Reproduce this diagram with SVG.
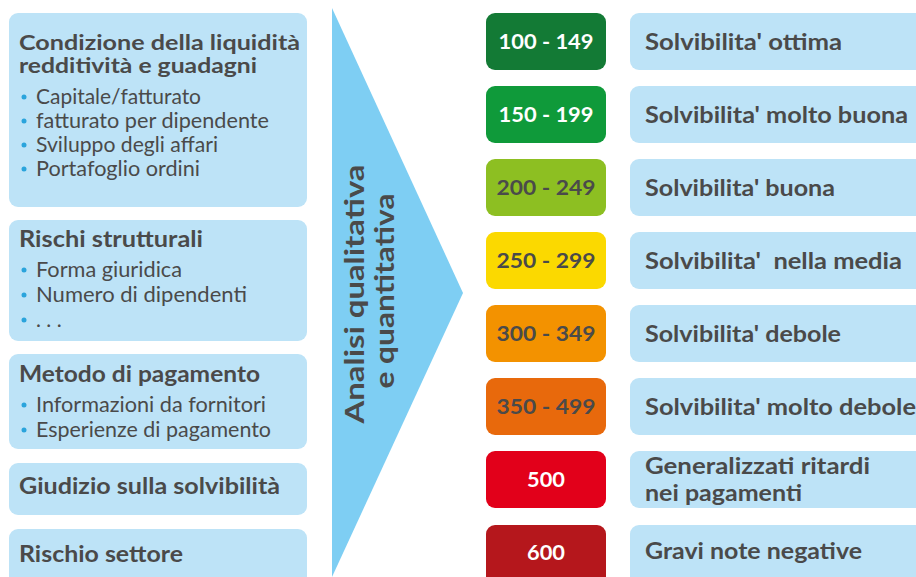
<svg xmlns="http://www.w3.org/2000/svg" width="916" height="577" viewBox="0 0 916 577">
<style>
.box{fill:#bde3f7}
.h{font-family:Lato,"Open Sans",sans-serif;font-weight:bold;font-size:23px;fill:#4a4a4a}
.h2{font-size:21px}
.b{font-family:Lato,"Open Sans",sans-serif;font-size:21px;fill:#4a4a4a}
.dot{fill:#2aa4dc}
.badge{font-family:Lato,"Open Sans",sans-serif;font-weight:bold;font-size:20px;text-anchor:middle}
.w{fill:#ffffff}
.g{fill:#4a4a4a}
.lab{font-family:Lato,"Open Sans",sans-serif;font-weight:bold;font-size:23px;fill:#4a4a4a}
.arr{font-family:Lato,"Open Sans",sans-serif;font-weight:bold;font-size:26px;fill:#4a4a4a;text-anchor:middle}
</style>
<rect width="916" height="577" fill="#ffffff"/>
<g id="connectors">
<polygon points="332,8 463,293 332,577" fill="#7ecef3"/>
<text class="arr" transform="translate(364,294) rotate(-90)" textLength="259" lengthAdjust="spacingAndGlyphs">Analisi qualitativa</text>
<text class="arr" transform="translate(394,291) rotate(-90)" textLength="195" lengthAdjust="spacingAndGlyphs">e quantitativa</text>
</g>
<g id="box1">
<rect class="box" x="9" y="13" width="298" height="194" rx="9"/>
<text class="h h2" x="19" y="50" textLength="281" lengthAdjust="spacingAndGlyphs">Condizione della liquidità</text>
<text class="h h2" x="19" y="73" textLength="238" lengthAdjust="spacingAndGlyphs">redditività e guadagni</text>
<circle class="dot" cx="24" cy="97" r="2.5"/><text class="b" x="36" y="104" textLength="165" lengthAdjust="spacingAndGlyphs">Capitale/fatturato</text>
<circle class="dot" cx="24" cy="121" r="2.5"/><text class="b" x="36" y="128" textLength="233" lengthAdjust="spacingAndGlyphs">fatturato per dipendente</text>
<circle class="dot" cx="24" cy="145" r="2.5"/><text class="b" x="36" y="152" textLength="182" lengthAdjust="spacingAndGlyphs">Sviluppo degli affari</text>
<circle class="dot" cx="24" cy="169" r="2.5"/><text class="b" x="36" y="176" textLength="164" lengthAdjust="spacingAndGlyphs">Portafoglio ordini</text>
</g>
<g id="box2">
<rect class="box" x="9" y="220" width="298" height="121" rx="9"/>
<text class="h" x="19" y="247" textLength="184" lengthAdjust="spacingAndGlyphs">Rischi strutturali</text>
<circle class="dot" cx="24" cy="270" r="2.5"/><text class="b" x="36" y="277" textLength="146" lengthAdjust="spacingAndGlyphs">Forma giuridica</text>
<circle class="dot" cx="24" cy="295" r="2.5"/><text class="b" x="36" y="302" textLength="211" lengthAdjust="spacingAndGlyphs">Numero di dipendenti</text>
<circle class="dot" cx="24" cy="320" r="2.5"/><text class="b" x="36" y="327">. . .</text>
</g>
<g id="box3">
<rect class="box" x="9" y="354" width="298" height="95" rx="9"/>
<text class="h" x="19" y="382" textLength="241" lengthAdjust="spacingAndGlyphs">Metodo di pagamento</text>
<circle class="dot" cx="24" cy="405" r="2.5"/><text class="b" x="36" y="412" textLength="230" lengthAdjust="spacingAndGlyphs">Informazioni da fornitori</text>
<circle class="dot" cx="24" cy="430" r="2.5"/><text class="b" x="36" y="437" textLength="235" lengthAdjust="spacingAndGlyphs">Esperienze di pagamento</text>
</g>
<g id="box4">
<rect class="box" x="9" y="463" width="298" height="52" rx="9"/>
<text class="h" x="19" y="494" textLength="261" lengthAdjust="spacingAndGlyphs">Giudizio sulla solvibilità</text>
</g>
<g id="box5">
<rect class="box" x="9" y="529" width="298" height="60" rx="9"/>
<text class="h" x="19" y="562" textLength="164" lengthAdjust="spacingAndGlyphs">Rischio settore</text>
</g>
<g id="r1">
<rect x="486" y="13" width="120" height="57" rx="9" fill="#137a35"/>
<text class="badge w" x="546" y="49" textLength="95" lengthAdjust="spacingAndGlyphs">100 - 149</text>
<rect class="box" x="630" y="13" width="300" height="57" rx="9"/>
<text class="lab" x="645" y="50" textLength="197" lengthAdjust="spacingAndGlyphs">Solvibilita' ottima</text>
</g>
<g id="r2">
<rect x="486" y="86" width="120" height="57" rx="9" fill="#0f9a3a"/>
<text class="badge w" x="546" y="122" textLength="95" lengthAdjust="spacingAndGlyphs">150 - 199</text>
<rect class="box" x="630" y="86" width="300" height="57" rx="9"/>
<text class="lab" x="645" y="123" textLength="263" lengthAdjust="spacingAndGlyphs">Solvibilita' molto buona</text>
</g>
<g id="r3">
<rect x="486" y="159" width="120" height="57" rx="9" fill="#8dbf22"/>
<text class="badge g" x="546" y="195" textLength="99" lengthAdjust="spacingAndGlyphs">200 - 249</text>
<rect class="box" x="630" y="159" width="300" height="57" rx="9"/>
<text class="lab" x="645" y="196" textLength="190" lengthAdjust="spacingAndGlyphs">Solvibilita' buona</text>
</g>
<g id="r4">
<rect x="486" y="232" width="120" height="57" rx="9" fill="#fbd900"/>
<text class="badge g" x="546" y="268" textLength="99" lengthAdjust="spacingAndGlyphs">250 - 299</text>
<rect class="box" x="630" y="232" width="300" height="57" rx="9"/>
<text class="lab" x="645" y="269" xml:space="preserve" textLength="257" lengthAdjust="spacingAndGlyphs">Solvibilita'  nella media</text>
</g>
<g id="r5">
<rect x="486" y="305" width="120" height="57" rx="9" fill="#f39200"/>
<text class="badge g" x="546" y="341" textLength="99" lengthAdjust="spacingAndGlyphs">300 - 349</text>
<rect class="box" x="630" y="305" width="300" height="57" rx="9"/>
<text class="lab" x="645" y="342" textLength="196" lengthAdjust="spacingAndGlyphs">Solvibilita' debole</text>
</g>
<g id="r6">
<rect x="486" y="378" width="120" height="57" rx="9" fill="#e8690c"/>
<text class="badge g" x="546" y="414" textLength="99" lengthAdjust="spacingAndGlyphs">350 - 499</text>
<rect class="box" x="630" y="378" width="300" height="57" rx="9"/>
<text class="lab" x="645" y="415" textLength="271" lengthAdjust="spacingAndGlyphs">Solvibilita' molto debole</text>
</g>
<g id="r7">
<rect x="486" y="451" width="120" height="57" rx="9" fill="#e2001a"/>
<text class="badge w" x="546" y="487" textLength="38" lengthAdjust="spacingAndGlyphs">500</text>
<rect class="box" x="630" y="451" width="300" height="57" rx="9"/>
<text class="lab" x="645" y="474" textLength="225" lengthAdjust="spacingAndGlyphs">Generalizzati ritardi</text>
<text class="lab" x="645" y="501" textLength="157" lengthAdjust="spacingAndGlyphs">nei pagamenti</text>
</g>
<g id="r8">
<rect x="486" y="525" width="120" height="60" rx="9" fill="#b5171c"/>
<text class="badge w" x="546" y="560" textLength="38" lengthAdjust="spacingAndGlyphs">600</text>
<rect class="box" x="630" y="525" width="300" height="60" rx="9"/>
<text class="lab" x="645" y="559" textLength="217" lengthAdjust="spacingAndGlyphs">Gravi note negative</text>
</g>
</svg>
